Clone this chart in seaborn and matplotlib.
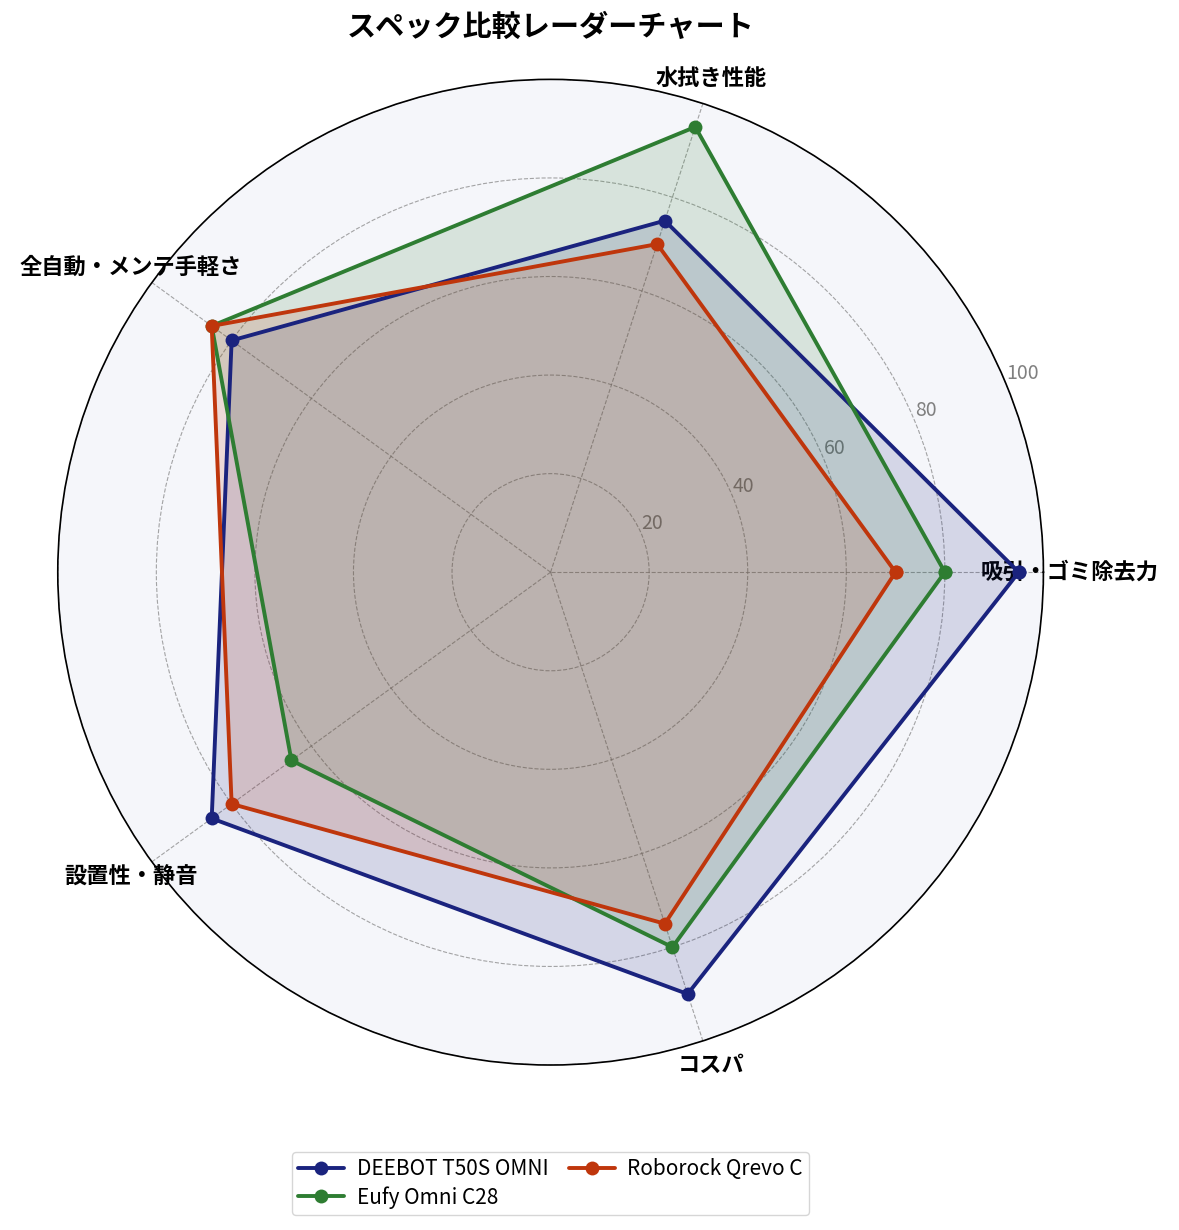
import numpy as np
import pandas as pd
import matplotlib
matplotlib.use("Agg")
import matplotlib.pyplot as plt
import seaborn as sns

# categories (axes of the radar)
categories = ["吸引・ゴミ除去力", "水拭き性能", "全自動・メンテ手軽さ", "設置性・静音", "コスパ"]

# scores per model
deebot = [95, 75, 80, 85, 90]
eufy = [80, 95, 85, 65, 80]
roborock = [70, 70, 85, 80, 75]

models = ["DEEBOT T50S OMNI", "Eufy Omni C28", "Roborock Qrevo C"]
colors = ["#1a237e", "#2e7d32", "#bf360c"]
r_ticks = [20, 40, 60, 80, 100]

sns.set_style("white")
plt.rcParams['font.family'] = ['Noto Sans CJK JP', 'DejaVu Sans']
plt.rcParams['text.color'] = 'black'
plt.rcParams['xtick.color'] = 'black'

n = len(categories)
angles = np.linspace(0, 2 * np.pi, n, endpoint=False)
angles_closed = np.concatenate([angles, angles[:1]])

rows = []
for name, vals in zip(models, [deebot, eufy, roborock]):
    closed = list(vals) + [vals[0]]
    for i, (a, v) in enumerate(zip(angles_closed, closed)):
        rows.append({"model": name, "angle": a, "score": v, "order": i})
df = pd.DataFrame(rows)

fig = plt.figure(figsize=(11.79, 12.30), dpi=100)
ax = fig.add_axes([0.049, 0.134, 0.836, 0.8016], projection="polar")
ax.set_facecolor("#f5f6fa")

for name, c in zip(models, colors):
    sub = df[df["model"] == name].sort_values("order")
    sns.lineplot(data=sub, x="angle", y="score", sort=False, ax=ax, color=c,
                 linewidth=2.8, marker="o", markersize=10, markeredgewidth=0,
                 label=name, estimator=None)
    ax.fill(sub["angle"], sub["score"], color=c, alpha=0.15)

ax.set_ylim(0, 100)
ax.set_yticks(r_ticks)
ax.set_yticklabels([str(t) for t in r_ticks], color="gray", fontsize=14)
ax.set_rlabel_position(22.5)
ax.set_xticks(angles)
ax.set_xticklabels(categories, fontsize=16, fontweight="bold", color="black")
ax.tick_params(axis="x", pad=8)
ax.set_xlabel("")
ax.set_ylabel("")
ax.grid(True, color="gray", linestyle="--", linewidth=0.8, alpha=0.7)
ax.spines["polar"].set_color("black")
ax.spines["polar"].set_linewidth(1.2)

ax.legend_.remove()
handles, labels = ax.get_legend_handles_labels()
fig.legend(handles, labels, loc="center", bbox_to_anchor=(0.467, 0.038),
           ncol=2, fontsize=15, frameon=True, edgecolor="#cccccc",
           handlelength=2.2, columnspacing=1.0, handletextpad=0.6,
           borderpad=0.3, labelspacing=0.3)

fig.suptitle("スペック比較レーダーチャート", fontsize=21, fontweight="bold",
             x=0.467, y=0.99, color="black")

fig.savefig("out.png", dpi=100)
